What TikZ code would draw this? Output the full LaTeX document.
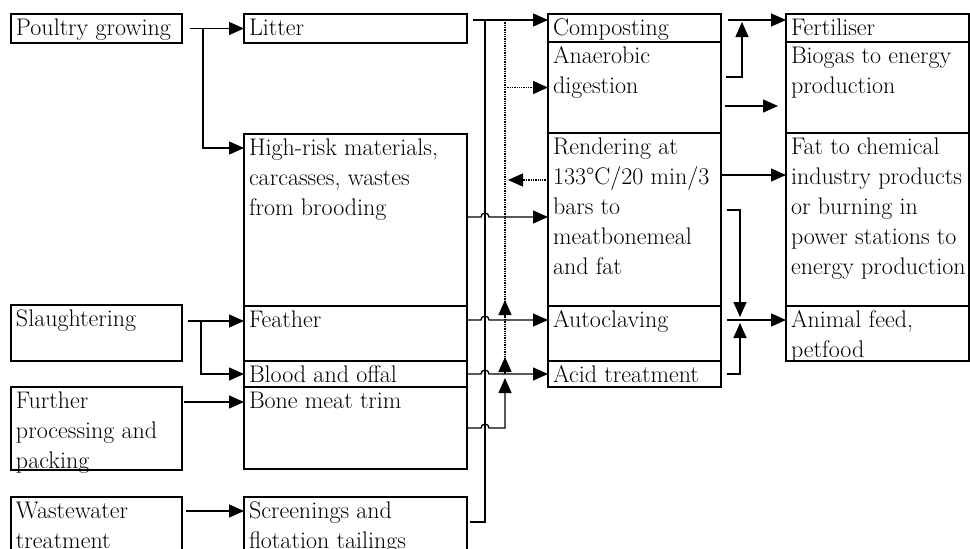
\documentclass[tikz,border=0pt]{standalone}
\usepackage{tikz}
\usetikzlibrary{
    arrows.meta
}
\tikzset{
    cell/.style={
        draw,
        line width=1.5pt,
        anchor=north west,
        inner sep=0pt,
        outer sep=0pt,
        font=\fontsize{24pt}{30pt}\selectfont
    },
    flow/.style={
        line width=1.3pt
    },
    alt/.style={
        line width=1.3pt,
        densely dotted
    }
}
\newcommand{\cellbox}[3]{%
    \parbox[t][#2][t]{#1}{\raggedright\leftskip=5pt\hyphenpenalty=10000\exhyphenpenalty=10000\rule{0pt}{21pt}#3}}

\begin{document}
\begin{tikzpicture}[
    x=1pt,
    y=-1pt,
    >={Triangle[length=15pt,width=13pt]}
]
    \useasboundingbox (0,0) rectangle (970,549);

    % Sources
    \node[cell] (poultry)   at (11,14)   {\cellbox{171pt}{29pt}{Poultry growing}};
    \node[cell] (slaughter) at (11,305)  {\cellbox{171pt}{56pt}{Slaughtering}};
    \node[cell] (further)   at (11,387)  {\cellbox{171pt}{83pt}{Further\\ processing and\\ packing}};
    \node[cell] (waste)     at (11,497)  {\cellbox{171pt}{60pt}{Wastewater\\ treatment}};

    % Residues
    \node[cell] (litter)    at (244,14)  {\cellbox{223pt}{29pt}{Litter}};
    \node[cell] (highrisk)  at (244,134) {\cellbox{223pt}{172pt}{High-risk materials,\\ carcasses, wastes\\ from brooding}};
    \node[cell] (feather)   at (244,306) {\cellbox{223pt}{55pt}{Feather}};
    \node[cell] (blood)     at (244,361) {\cellbox{223pt}{26pt}{Blood and offal}};
    \node[cell] (bonetrim)  at (244,387) {\cellbox{223pt}{82pt}{Bone meat trim}};
    \node[cell] (screen)    at (244,497) {\cellbox{223pt}{60pt}{Screenings and\\ flotation tailings}};

    % Treatments
    \node[cell] (compost)   at (548,14)  {\cellbox{173pt}{28pt}{Composting}};
    \node[cell] (anaer)     at (548,42)  {\cellbox{173pt}{91pt}{Anaerobic\\ digestion}};
    \node[cell] (render)    at (548,133) {\cellbox{173pt}{173pt}{Rendering at\\ 133\textdegree C/20 min/3\\ bars to\\ meatbonemeal\\ and fat}};
    \node[cell] (autoclave) at (548,306) {\cellbox{173pt}{55pt}{Autoclaving}};
    \node[cell] (acid)      at (548,361) {\cellbox{173pt}{26pt}{Acid treatment}};

    % Products
    \node[cell] (fert)      at (786,14)  {\cellbox{183pt}{28pt}{Fertiliser}};
    \node[cell] (biogas)    at (786,42)  {\cellbox{183pt}{91pt}{Biogas to energy\\ production}};
    \node[cell] (fat)       at (786,133) {\cellbox{183pt}{173pt}{Fat to chemical\\ industry products\\ or burning in\\ power stations to\\ energy production}};
    \node[cell] (feed)      at (786,306) {\cellbox{183pt}{55pt}{Animal feed,\\ petfood}};

    % Sources to residues
    \draw[flow, ->] ([xshift=8pt]poultry.east) -- (litter.west);
    \draw[flow, ->] ([xshift=21pt]poultry.east) |- ([yshift=-14pt]highrisk.north west);
    \draw[flow, ->] ([shift={(6pt,-16pt)}]slaughter.north east) -- ([yshift=-15pt]feather.north west);
    \draw[flow, ->] ([shift={(19pt,-16pt)}]slaughter.north east) |- (blood.west);
    \draw[flow, ->] ([shift={(2pt,-15pt)}]further.north east) -- ([yshift=-15pt]bonetrim.north west);
    \draw[flow, ->] ([shift={(4pt,-14pt)}]waste.north east) -- ([yshift=-14pt]screen.north west);

    % Residues to treatments
    \coordinate (busA) at ([xshift=18pt]litter.north east);
    \coordinate (busB) at ([xshift=38pt]litter.north east);
    \coordinate (fl) at ([yshift=-14pt]feather.north east);
    \coordinate (bt) at (busB |- blood.east);
    \coordinate (rl) at ([yshift=-47pt]render.north west);

    \draw[flow, ->] ([shift={(6pt,-6pt)}]litter.north east) -- ([yshift=-6pt]compost.north west);
    \draw[flow] ([shift={(3pt,-25pt)}]screen.north east) -| ([yshift=-6pt]busA);
    \draw[flow, ->] ([yshift=-83pt]highrisk.north east) -- ++(14pt,0pt)
        arc[start angle=180, end angle=0, radius=4pt] -- ([yshift=-84pt]render.north west);
    \draw[flow, ->] (fl) -- ++(14pt,0pt)
        arc[start angle=180, end angle=0, radius=4pt] -- ([yshift=-14pt]autoclave.north west);
    \draw[flow, ->] (blood.east) -- ++(14pt,0pt)
        arc[start angle=180, end angle=0, radius=4pt] -- (acid.west);
    \draw[flow, ->] ([yshift=-41pt]bonetrim.north east) -- ++(14pt,0pt)
        arc[start angle=180, end angle=0, radius=4pt] -| ([yshift=-4pt]bt);

    % Dotted alternatives
    \draw[alt] ([yshift=-6pt]busB) -- (bt);
    \draw[alt, ->] (busB |- fl) -- ++(0pt,20pt);
    \draw[alt, ->] (bt) -- ++(0pt,17pt);
    \draw[alt, ->] (busB |- anaer.west) -- (anaer.west);
    \draw[alt, ->, shorten >=3pt] (rl) -- (busB |- rl);

    % Treatments to products
    \draw[flow, ->] ([shift={(7pt,-6pt)}]compost.north east) -- ([yshift=-6pt]fert.north west);
    \draw[flow, ->] ([shift={(5pt,-35pt)}]anaer.north east) -| ([shift={(21pt,-8pt)}]compost.north east);
    \draw[flow, ->, shorten >=8pt] ([shift={(4pt,-64pt)}]anaer.north east) -- ([yshift=-64pt]biogas.north west);
    \draw[flow, ->] ([yshift=-42pt]render.north east) -- ([yshift=-42pt]fat.north west);
    \draw[flow, ->] ([shift={(6pt,-77pt)}]render.north east) -| ([shift={(19pt,-11pt)}]autoclave.north east);
    \draw[flow, ->] ([shift={(6pt,-14pt)}]autoclave.north east) -- ([yshift=-14pt]feed.north west);
    \draw[flow, ->] ([xshift=6pt]acid.east) -| ([shift={(19pt,-17pt)}]autoclave.north east);

\end{tikzpicture}
\end{document}
